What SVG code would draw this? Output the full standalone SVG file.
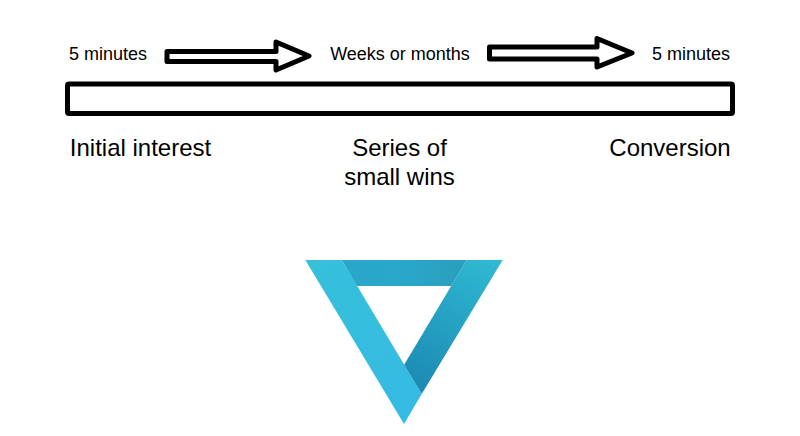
<svg xmlns="http://www.w3.org/2000/svg" width="800" height="436" viewBox="0 0 800 436">
<style>
text{font-family:"Liberation Sans",Arial,sans-serif;fill:#000;text-anchor:middle}
.s{font-size:18px}
.l{font-size:24px}
.o{fill:#fff;stroke:#000;stroke-linejoin:round}
</style>
<defs>
<linearGradient id="top" x1="0" x2="1" y1="0" y2="0"><stop offset="0" stop-color="#2aa6ca"/><stop offset=".45" stop-color="#28a8cb"/><stop offset="1" stop-color="#2c9dbd"/></linearGradient>
<linearGradient id="right" gradientUnits="userSpaceOnUse" x1="490" y1="262" x2="410" y2="392"><stop offset="0" stop-color="#2fb8d2"/><stop offset="1" stop-color="#1b88b2"/></linearGradient>
<linearGradient id="left" gradientUnits="userSpaceOnUse" x1="320" y1="260" x2="410" y2="424"><stop offset="0" stop-color="#36c0da"/><stop offset="1" stop-color="#35bae4"/></linearGradient>
</defs>
<g id="connectors">
<path class="o" stroke-width="5" d="M167 51.500H276V42L309 56L276 70V61.500H167Z"/>
<path class="o" stroke-width="5" d="M489.500 47H597V38.500L632 53L597 67V59H489.500Z"/>
</g>
<g id="timeline"><rect class="o" x="67.500" y="84" width="665" height="29.500" rx="1.500" stroke-width="5"/></g>
<g id="label-start"><text class="s" x="108" y="60">5 minutes</text></g>
<g id="label-middle"><text class="s" x="400" y="60">Weeks or months</text></g>
<g id="label-end"><text class="s" x="691" y="60">5 minutes</text></g>
<g id="node-initial"><text class="l" x="140.500" y="156">Initial interest</text></g>
<g id="node-series"><text class="l" x="399.500" y="156">Series of</text><text class="l" x="399.500" y="185">small wins</text></g>
<g id="node-conversion"><text class="l" x="670" y="156">Conversion</text></g>
<g id="logo">
<path fill="url(#top)" d="M341.700 260H466.700L451.300 286H356.700Z"/>
<path fill="url(#right)" d="M466.700 260H502.700L421.700 394L404 365Z"/>
<path fill="url(#left)" d="M305.300 260H341.700L421.700 394L404 424Z"/>
</g>
</svg>
